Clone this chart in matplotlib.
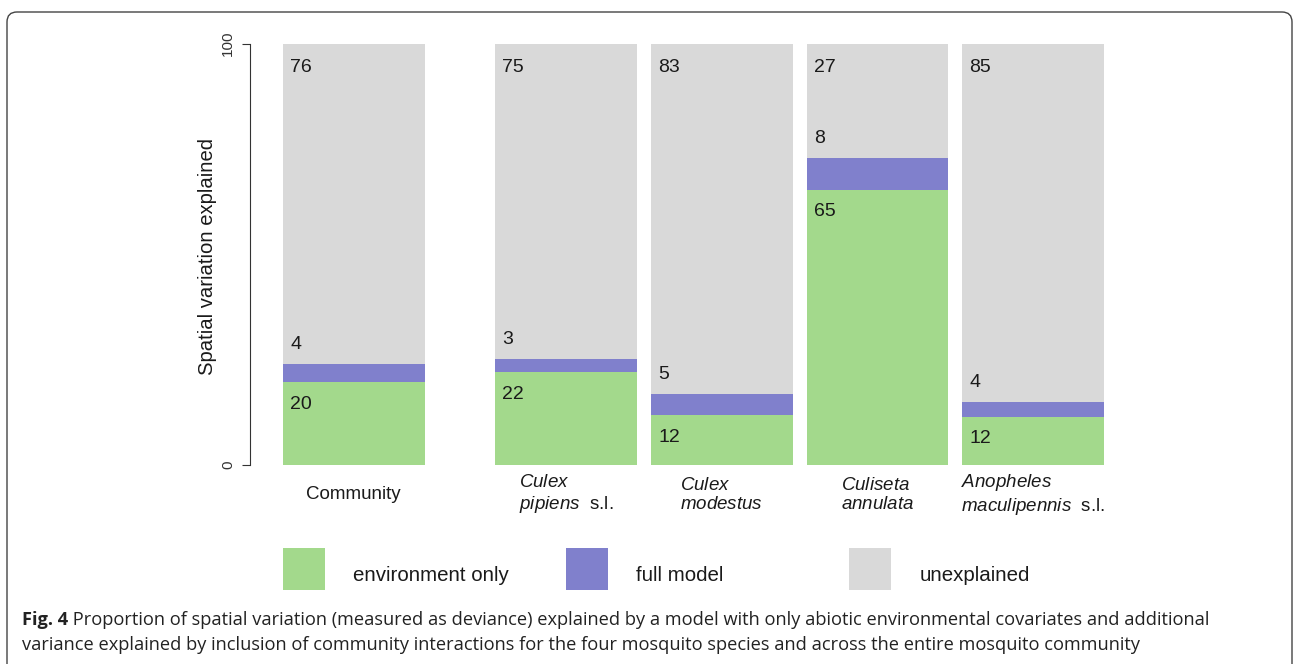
import matplotlib
matplotlib.use("Agg")
import matplotlib.pyplot as plt
from matplotlib.patches import FancyBboxPatch, Rectangle
import numpy as np

plt.rcParams['font.family'] = ['Liberation Sans', 'DejaVu Sans']
plt.rcParams['mathtext.fontset'] = 'custom'
plt.rcParams['mathtext.it'] = 'Liberation Sans:italic'
plt.rcParams['mathtext.rm'] = 'Liberation Sans'

# data (percent of spatial deviance)
categories = ["Community",
              "$\\mathit{Culex}$\n$\\mathit{pipiens}$  s.l.",
              "$\\mathit{Culex}$\n$\\mathit{modestus}$",
              "$\\mathit{Culiseta}$\n$\\mathit{annulata}$",
              "$\\mathit{Anopheles}$\n$\\mathit{maculipennis}$  s.l."]
env_only = [19.5, 21.9, 11.7, 65.2, 11.3]
full_extra = [4.3, 3.2, 5.0, 7.6, 3.5]
env_text = ["20", "22", "12", "65", "12"]
full_text = ["4", "3", "5", "8", "4"]
unexp_text = ["76", "75", "83", "27", "85"]
legend_labels = ["environment only", "full model", "unexplained"]
colours = ["#a3d98c", "#8080cc", "#d9d9d9"]

caption_bold = "Fig. 4"
caption_1 = (" Proportion of spatial variation (measured as deviance) explained by a model "
             "with only abiotic environmental covariates and additional")
caption_2 = ("variance explained by inclusion of community interactions for the four "
             "mosquito species and across the entire mosquito community")

W, H = 1294, 664
fig = plt.figure(figsize=(W / 100, H / 100), dpi=100)
ax = fig.add_axes([250 / W, (H - 464.5) / H, 854 / W, 421 / H])

# R-style barplot spacing: width 1, gaps between bars
space = [0, 0.5, 0.1, 0.1, 0.1]
lefts = np.cumsum(space) + np.arange(len(space))
env = np.array(env_only)
full = np.array(full_extra)
unexp = 100 - env - full

ax.bar(lefts, env, width=1, align='edge', color=colours[0], linewidth=0)
ax.bar(lefts, full, width=1, bottom=env, align='edge', color=colours[1], linewidth=0)
ax.bar(lefts, unexp, width=1, bottom=env + full, align='edge', color=colours[2], linewidth=0)

txt = '#1a1a1a'
for i, x in enumerate(lefts):
    ax.text(x + 0.05, env[i] - 5.2, env_text[i], fontsize=14, va='center', color=txt)
    ax.text(x + 0.05, env[i] + full[i] + 4.7, full_text[i], fontsize=14, va='center', color=txt)
    ax.text(x + 0.05, 94.4, unexp_text[i], fontsize=14, va='center', color=txt)
    ax.text(x + 0.5, -7.2, categories[i], fontsize=13.5, ha='center', va='center',
            multialignment='left', color=txt, linespacing=1.2)

x0 = -33 / 141.6
ax.set_xlim(x0, lefts[-1] + 1)
ax.set_ylim(0, 100)
for s in ['top', 'right', 'bottom']:
    ax.spines[s].set_visible(False)
ax.spines['left'].set_color('#333333')
ax.set_xticks([])
ax.set_yticks([0, 100])
ax.tick_params(axis='y', labelrotation=90, labelsize=11, length=5.8, pad=5, colors='#333333')
for lab in ax.get_yticklabels():
    lab.set_va('center')
ax.text(x0 - 43 / 141.6, 49.3, "Spatial variation explained", rotation=90,
        ha='center', va='center', fontsize=14.6, color=txt)

# legend, laid out in columns like R's legend()
for j, lab in enumerate(legend_labels):
    ax.add_patch(Rectangle((2 * j, -29.9), 0.297, 10.1, color=colours[j], clip_on=False, linewidth=0))
    ax.text(2 * j + 0.494, -26.3, lab, fontsize=14.8, va='center', color=txt)

# caption
cap_font = 'Open Sans'
t = fig.text(22 / W, 1 - 620 / H, caption_bold, fontsize=13.15, fontweight='bold',
             family=cap_font, va='center', color='#222222')
r = fig.canvas.get_renderer()
bb = t.get_window_extent(r)
fig.text(bb.x1 / W, 1 - 620 / H, caption_1, fontsize=13.15, family=cap_font, va='center', color='#222222')
fig.text(22 / W, 1 - 645 / H, caption_2, fontsize=13.15, family=cap_font, va='center', color='#222222')

# rounded frame
frame = FancyBboxPatch((7, -30), 1285, 682, boxstyle="round,pad=0,rounding_size=10",
                       transform=None, fill=False, edgecolor='#444444', linewidth=1)
fig.add_artist(frame)

fig.savefig("out.png", dpi=100)
